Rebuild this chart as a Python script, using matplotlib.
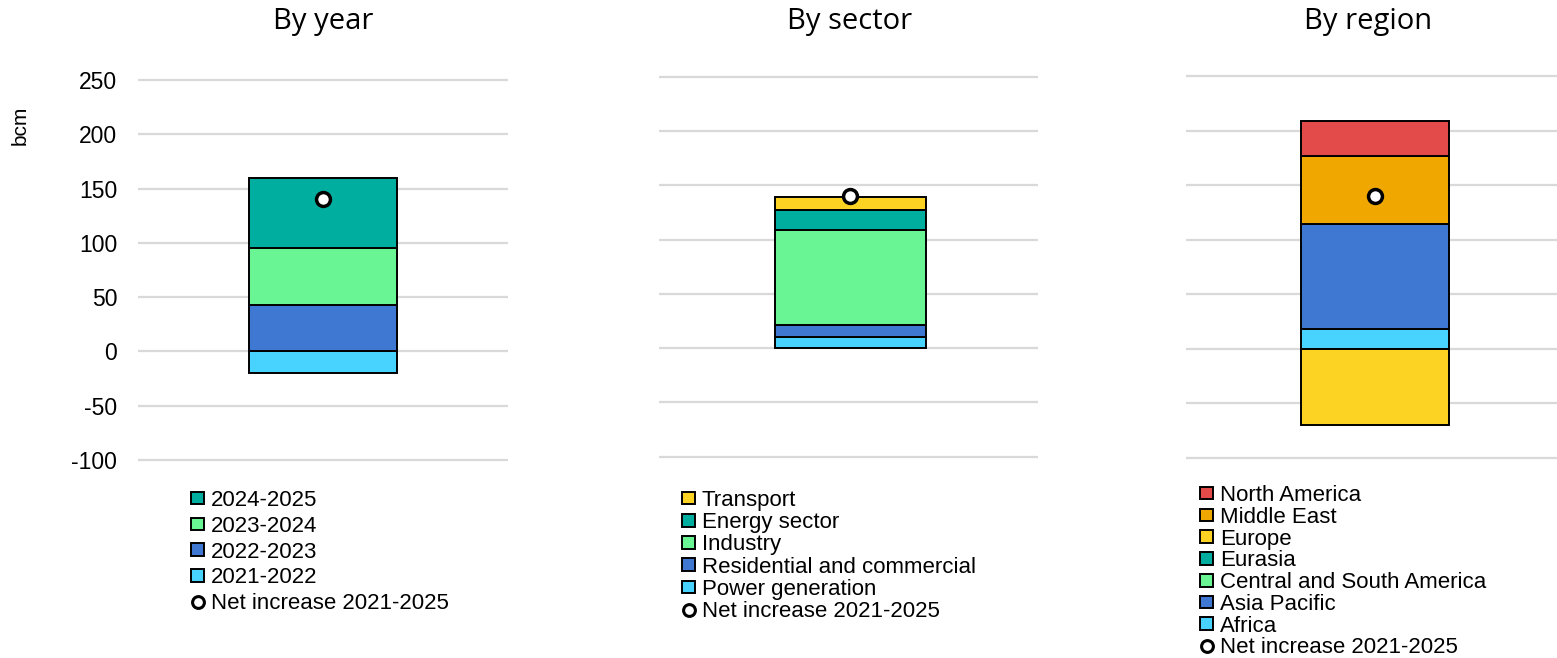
import matplotlib.pyplot as plt
from matplotlib.patches import Patch
from matplotlib.lines import Line2D

# data (bcm)
year_labels = ["2021-2022", "2022-2023", "2023-2024", "2024-2025"]
year_values = [-20, 43, 52, 65]
year_colors = ["#48D3FF", "#3E78D3", "#69F594", "#00AEA0"]

sector_labels = ["Power generation", "Residential and commercial", "Industry", "Energy sector", "Transport"]
sector_values = [10, 11, 88, 18, 12]
sector_colors = ["#48D3FF", "#3E78D3", "#69F594", "#00AEA0", "#FDD323"]

region_labels = ["Africa", "Asia Pacific", "Central and South America", "Eurasia", "Europe", "Middle East", "North America"]
region_values = [18, 96, 0, 0, -70, 63, 32]
region_colors = ["#48D3FF", "#3E78D3", "#69F594", "#00AEA0", "#FDD323", "#F0A800", "#E34A4A"]

net_increase = [140, 140, 140]
net_label = "Net increase 2021-2025"
titles = ["By year", "By sector", "By region"]
y_ticks = [-100, -50, 0, 50, 100, 150, 200, 250]

plt.rcParams["axes.unicode_minus"] = False

W, H = 1557, 658
fig = plt.figure(figsize=(W / 100, H / 100), dpi=100)

txt_font = "Liberation Sans"


def px_axes(x0, x1, ytop, ybot):
    return fig.add_axes([x0 / W, 1 - ybot / H, (x1 - x0) / W, (ybot - ytop) / H])


def stacked_bar(ax, values, colors, net, xoff):
    pos = 0
    neg = 0
    for v, c in zip(values, colors):
        if v >= 0:
            ax.bar(0, v, bottom=pos, width=0.4, color=c, edgecolor="black", linewidth=1.4, zorder=3)
            pos += v
        else:
            ax.bar(0, v, bottom=neg, width=0.4, color=c, edgecolor="black", linewidth=1.4, zorder=3)
            neg += v
    ax.plot(0, net, "o", ms=10, mfc="white", mec="black", mew=2.5, zorder=5)
    ax.set_xlim(-0.5 - xoff, 0.5 - xoff)
    ax.set_ylim(-102, 252)
    ax.set_yticks(y_ticks)
    ax.grid(axis="y", color="#D9D9D9", linewidth=1.6, zorder=0)
    ax.set_axisbelow(True)
    for s in ax.spines.values():
        s.set_visible(False)
    ax.set_xticks([])
    ax.tick_params(axis="y", length=0, pad=15, labelsize=16.5)
    for t in ax.get_yticklabels():
        t.set_fontfamily(txt_font)


def add_legend(labels, colors, x, y, spacing):
    handles = [Patch(facecolor=c, edgecolor="black", linewidth=1.4) for c in colors][::-1]
    handles.append(Line2D([], [], marker="o", ls="", ms=8.5, mfc="white", mec="black", mew=2.2))
    labs = list(labels)[::-1] + [net_label]
    fig.legend(handles, labs, loc="upper left", bbox_to_anchor=(x / W, 1 - y / H),
               frameon=False, borderpad=0, borderaxespad=0, handlelength=0.6, handleheight=0.5,
               handletextpad=0.3, labelspacing=spacing,
               prop={"family": txt_font, "size": 16})


# three panels
ax1 = px_axes(138, 508, 77.8, 462.2)
stacked_bar(ax1, year_values, year_colors, net_increase[0], 0.0)

ax2 = px_axes(659, 1038, 74.5, 458.9)
stacked_bar(ax2, sector_values, sector_colors, net_increase[1], 0.005)
ax2.set_yticklabels([])

ax3 = px_axes(1186, 1557, 73.8, 459.9)
stacked_bar(ax3, region_values, region_colors, net_increase[2], 0.01)
ax3.set_yticklabels([])

# titles
for x, t in zip([323, 850, 1368], titles):
    fig.text(x / W, 1 - 22 / H, t, ha="center", va="center", fontsize=21, family="Open Sans")

fig.text(20 / W, 1 - 125 / H, "bcm", rotation=90, ha="center", va="center", fontsize=15, family=txt_font)

# legends
add_legend(year_labels, year_colors, 191, 490, 0.215)
add_legend(sector_labels, sector_colors, 682, 490, 0.055)
add_legend(region_labels, region_colors, 1200, 485, 0.035)

fig.savefig("out.png", dpi=100)
